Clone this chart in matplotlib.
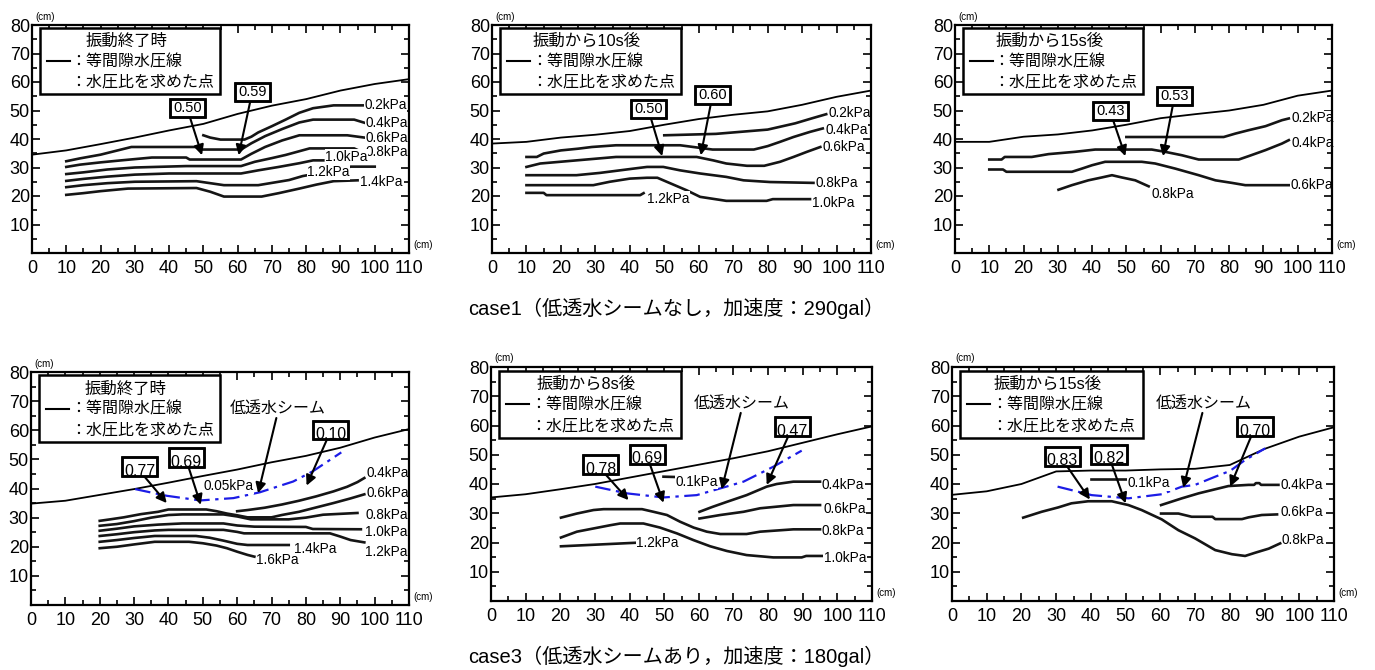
import matplotlib
matplotlib.use("Agg")
import matplotlib.pyplot as plt
from matplotlib.patches import Rectangle

plt.rcParams['font.family'] = ['Liberation Sans', 'Noto Sans CJK JP']

# ---- data (cm) ----
x_ticks = list(range(0, 111, 10))
y_ticks = list(range(0, 81, 10))
ground_x = [0, 10, 20, 30, 40, 50, 60, 70, 80, 90, 100, 110]

# case1 ground surface
ground_1a = [34.5, 36, 38.2, 40.5, 43, 45.3, 48.8, 51.7, 54, 57, 59.3, 61]
ground_1b = [38.4, 39, 40.5, 41.5, 42.8, 45, 47, 48.5, 49.7, 52, 54.8, 57]
ground_1c = [39, 39, 40.8, 41.6, 43, 45, 47.3, 48.7, 50, 52, 55.2, 57]
# case3 ground surface
ground_3a = [34.8, 35.8, 37.8, 39.8, 42, 44.3, 46.5, 49, 51.2, 54, 57.5, 60.4]
ground_3b = [35.4, 36.5, 38.2, 40, 42.2, 44.4, 46.6, 48.8, 51.2, 54.1, 57, 59.7]
ground_3c = [36.3, 37.5, 40, 44.3, 44.6, 44.6, 45, 45.2, 46.5, 52, 56.2, 59.4]

# case1, end of shaking
c1a_02 = [(50, 41.3), (52, 40.5), (55, 39.8), (62, 39.8), (64, 40.8), (66, 42.3), (70, 44.5),
          (74, 46.8), (78, 49.2), (82, 50.8), (88, 51.8), (96.5, 51.8)]
c1a_04 = [(10, 32.2), (14, 33.2), (20, 34.5), (25, 36), (29, 37.2), (48, 37.2), (49, 36.3), (61, 36.3),
          (64, 38.5), (68, 41), (73, 43.5), (78, 45.8), (82, 46.8), (94, 46.8), (97, 45.7)]
c1a_06 = [(10, 30.2), (14, 31), (20, 31.8), (26, 32.5), (35, 33.5), (45, 33.5), (46, 32.8), (61, 32.8),
          (64, 34.8), (68, 37.2), (73, 39.5), (78, 41.3), (92, 41.3), (97, 40.5)]
c1a_08 = [(10, 27.7), (15, 28.3), (22, 29.3), (30, 30), (45, 30.5), (61, 30.5), (65, 32), (70, 33.3),
          (74, 34.4), (81, 36.7), (94, 36.7), (96.5, 35.3)]
c1a_10 = [(10, 25.3), (15, 26), (22, 26.8), (30, 27.5), (40, 27.9), (61, 27.9), (66, 29), (72, 30.2),
          (78, 31.5), (82, 32.5), (85, 32.5)]
c1a_12 = [(10, 23.1), (15, 23.8), (22, 24.5), (30, 25), (48, 25.2), (52, 24.5), (56, 23.8), (66, 23.8),
          (70, 24.6), (75, 25.6), (79, 27), (86, 28.5), (93, 30.3), (100, 30.3)]
c1a_14 = [(10, 20.4), (15, 21), (20, 21.7), (28, 22.6), (48, 22.8), (52, 21.5), (56, 19.8), (67, 19.8),
          (72, 21), (78, 22.6), (83, 24), (88, 25.2), (95, 25.5)]
labels_1a = [('0.2kPa', 97, 51.8), ('0.4kPa', 97.3, 45.5), ('0.6kPa', 97.3, 40.3), ('0.8kPa', 97.3, 35.3),
             ('1.0kPa', 85.5, 33.8), ('1.2kPa', 80.3, 28.3), ('1.4kPa', 95.6, 24.8)]
boxes_1a = [('0.50', 45.4, 51, 49.6, 34.3), ('0.59', 64.3, 56.5, 60.3, 34.3)]

# case1, 10 s after shaking
c1b_02 = [(50, 41.3), (65, 41.8), (80, 43.3), (88, 45.5), (93, 47.3), (97, 48.7)]
c1b_04 = [(10, 33.7), (13, 33.7), (15, 34.9), (20, 36), (25, 36.6), (29, 37.2), (36, 37.8), (54.6, 37.8),
          (58.4, 37.2), (64, 36.3), (76, 36.3), (80, 37.5), (83.6, 39), (87.5, 40.7), (92.3, 42.5), (96, 43.7)]
c1b_06 = [(10, 30.2), (14, 31.4), (24.5, 32.5), (36, 33.7), (59.4, 33.7), (64.2, 32.5), (68, 31.4),
          (74, 30.6), (79, 30.6), (83.6, 32), (87.5, 33.7), (91.4, 35.5), (95.3, 37.2)]
c1b_08 = [(10, 27.3), (24.5, 27.3), (31.3, 28.1), (41, 29.6), (45, 30.2), (49.7, 30.2), (54.6, 29),
          (60.4, 27.9), (68, 26.7), (73, 25.5), (80.7, 24.9), (93.3, 24.6)]
c1b_10 = [(10, 23.8), (29.4, 23.8), (34.2, 25), (40, 26.1), (45, 26.4), (48, 26.4), (50.7, 25), (56.5, 22),
          (60.4, 19.7), (68, 18.3), (79.7, 18.3), (81.5, 18.9), (92.3, 18.9)]
c1b_12 = [(10, 21.1), (15, 21.1), (15.8, 20.3), (43, 20.3), (44, 21)]
labels_1b = [('0.2kPa', 97.7, 49), ('0.4kPa', 96.7, 43), ('0.6kPa', 95.8, 37.2), ('0.8kPa', 94, 24.6),
             ('1.0kPa', 93, 17.7), ('1.2kPa', 45, 19.1)]
boxes_1b = [('0.50', 45.5, 50.6, 49.4, 34), ('0.60', 64, 55.4, 60.6, 34.3)]

# case1, 15 s after shaking
c1c_02 = [(50, 40.7), (78.4, 40.7), (81.8, 41.9), (85.7, 43.1), (90.6, 44.5), (95.4, 46.6), (97.4, 47.2)]
c1c_04 = [(10, 32.8), (13.6, 32.8), (14.5, 33.7), (22.4, 33.7), (27.3, 34.7), (35, 35.5), (40.9, 36.3),
          (57.4, 36.3), (61.3, 35.5), (66.2, 34.3), (71.1, 32.8), (82.8, 32.8), (85.7, 34), (90.6, 36.1),
          (95.4, 38.4), (97.4, 39.6)]
c1c_06 = [(10, 29.3), (14, 29.3), (15, 28.5), (34.1, 28.5), (37, 29.6), (40, 30.8), (43.8, 32), (54.5, 32),
          (58.4, 31.4), (64.3, 29.6), (71.1, 27.3), (76, 25.5), (80.8, 24.6), (84.7, 23.8), (97.4, 23.8)]
c1c_08 = [(30.2, 22.2), (34.1, 23.8), (38.9, 25.5), (42.8, 26.5), (45.8, 27.3), (48.7, 26.5),
          (52.6, 25.5), (56.5, 23.4)]
labels_1c = [('0.2kPa', 98.3, 47.2), ('0.4kPa', 98.3, 38.6), ('0.6kPa', 97.9, 23.8), ('0.8kPa', 57.4, 20.8)]
boxes_1c = [('0.43', 45.5, 49.8, 49.7, 34), ('0.53', 64.1, 55.2, 60.7, 34)]

# case3, end of shaking
c3a_04 = [(60, 32.2), (63, 32.6), (68, 33.4), (73, 34.5), (78, 35.8), (83, 37.3), (88, 39), (92, 40.6),
          (95, 42.2), (97, 43.6)]
c3a_06 = [(20, 28.9), (23, 29.4), (27, 30.1), (32, 31.2), (37, 32), (40, 32.8), (51, 32.8), (54, 32.2),
          (57, 31.4), (60, 30.8), (63, 30.1), (70, 30.1), (73, 30.9), (78, 32), (83, 33.5), (88, 35),
          (93, 36.6), (97, 38)]
c3a_08 = [(20, 27.2), (25, 27.8), (30, 28.8), (35, 30), (40, 30.9), (44, 31.1), (56, 31.1), (60, 30.4),
          (64, 29.4), (75, 29.4), (80, 30), (85, 31), (95, 31.6)]
c3a_10 = [(20, 25.5), (25, 26.2), (30, 27), (37, 27.6), (44, 28), (56, 28), (60, 27.3), (65, 26.9),
          (80, 26.8), (82, 26.1), (96, 26)]
c3a_12 = [(20, 23.7), (25, 24.3), (30, 25), (36, 25.6), (40, 25.8), (56, 25.8), (60, 25.1), (62, 24.6),
          (87, 24.6), (90, 23.5), (93, 22.3), (97, 21.5)]
c3a_14 = [(20, 21.7), (25, 22.3), (30, 23), (36, 23.7), (48, 23.7), (52, 23.1), (56, 22.1), (60, 21),
          (63, 20.6), (75, 20.6)]
c3a_16 = [(20, 19.5), (25, 20), (30, 20.8), (36, 21.7), (46, 21.7), (50, 21.2), (54, 20.4), (57, 19.5),
          (60, 18.3), (63, 17.2), (65, 16.6)]
seam_3a = [(30.3, 39.8), (36.6, 38.2), (39.5, 37.5), (49.2, 35.9), (58.9, 36.7), (66.6, 38.7),
           (76.3, 42.4), (82, 45.9), (90.3, 52.4)]
labels_3a = [('0.4kPa', 97.6, 45.3), ('0.6kPa', 97.6, 38.3), ('0.8kPa', 97.2, 30.9), ('1.0kPa', 97.2, 24.9),
             ('1.2kPa', 97.2, 18.1), ('1.4kPa', 76.5, 19.3), ('1.6kPa', 65.5, 15.3), ('0.05kPa', 50.1, 40.7)]
boxes_3a = [('0.77', 31.7, 47.5, 39.5, 35), ('0.69', 45.2, 50.6, 49.4, 34.4), ('0.10', 87.2, 60.1, 80.2, 41)]
seam_note_3a = (71.7, 67.6, 66.1, 38.4)

# case3, 8 s after shaking
c3b_01 = [(49.8, 42.5), (53, 42.4)]
c3b_04 = [(60.2, 30.5), (64, 32.2), (68.1, 33.9), (73.8, 36.2), (79.6, 39.1), (82.5, 40), (87.3, 40.8),
          (95, 40.8)]
c3b_06 = [(60.2, 28.2), (66.2, 29.4), (72.9, 30.5), (77.7, 31.7), (87.3, 32.8), (95, 32.8)]
c3b_08 = [(20.2, 28.5), (24.8, 29.9), (29.6, 31.1), (32.5, 31.4), (43.6, 31.4), (46.9, 30.5), (50.8, 29.4),
          (54.6, 27.1), (58.5, 25.1), (62.3, 23.7), (66.2, 22.9), (73.8, 22.9), (77.7, 23.7), (87.3, 24.5),
          (95, 24.5)]
c3b_10 = [(20.2, 21.7), (24.8, 23.7), (29.6, 24.8), (34.4, 25.9), (37.3, 26.5), (44, 26.5), (48.8, 25.1),
          (53.7, 23.1), (58.5, 20.8), (63.3, 18.7), (68.1, 17.1), (73.8, 15.7), (81.5, 14.9), (89.7, 14.9),
          (91, 15.4), (95.5, 15.4)]
c3b_12 = [(20.2, 18.7), (41.6, 19.9)]
seam_3b = [(30.1, 39.1), (39.2, 36.8), (49.8, 35.4), (59.4, 36.2), (66.2, 38.5), (72.9, 40.8),
           (81.5, 45.9), (89.7, 51.4)]
labels_3b = [('0.1kPa', 53.2, 40.8), ('0.4kPa', 95.5, 39.7), ('0.6kPa', 96, 31.3), ('0.8kPa', 95.5, 23.9),
             ('1.0kPa', 96, 14.7), ('1.2kPa', 41.9, 19.7)]
boxes_3b = [('0.78', 31.7, 46.7, 39.7, 34.5), ('0.69', 45.1, 50.2, 49.8, 33.6), ('0.47', 87, 59.7, 79.6, 39.7)]
seam_note_3b = (72.4, 67.7, 66.6, 38.2)

# case3, 15 s after shaking
c3c_01 = [(40, 41.7), (50.3, 41.7)]
c3c_04 = [(60.2, 32.8), (66.2, 35.1), (71, 36.8), (75.8, 38.2), (79.6, 39.3), (85.4, 39.7), (87, 39.7),
          (87.5, 40.3), (88.5, 40.3), (89, 39.7), (94, 39.7)]
c3c_06 = [(60.2, 29.9), (65.2, 29.9), (69, 28.8), (75, 28.8), (75.8, 28), (83.5, 28), (85.4, 28.6),
          (89.2, 29.4), (93.6, 29.6)]
c3c_08 = [(20.5, 28.5), (25.8, 30.5), (30.6, 32), (34.4, 33.4), (39.2, 34.1), (46, 34.1), (50.8, 32.8),
          (54.6, 31.1), (60.4, 27.9), (65.2, 24.2), (70, 21.4), (75.8, 17.4), (80.6, 16), (84.4, 15.4),
          (87.3, 16.5), (91.2, 17.9), (94.5, 19.7)]
seam_3c = [(30.4, 39.1), (40.2, 36.2), (50.8, 35.1), (60.4, 36.5), (66.2, 39.1), (70, 39.7), (75.8, 42.5),
           (80.1, 44.5), (84.4, 48.2), (90.2, 52.2)]
labels_3c = [('0.1kPa', 50.6, 40.2), ('0.4kPa', 94.5, 39.5), ('0.6kPa', 94.5, 30.3), ('0.8kPa', 95, 21)]
boxes_3c = [('0.83', 31.8, 49.5, 39.7, 34.7), ('0.82', 45.2, 50.2, 50, 33.4), ('0.70', 87.3, 59.7, 80.1, 39.1)]
seam_note_3c = (72.4, 67.7, 66.6, 38.7)

titles = ['振動終了時', '振動から10s後', '振動から15s後', '振動終了時', '振動から8s後', '振動から15s後']
captions = ['case1（低透水シームなし，加速度：290gal）', 'case3（低透水シームあり，加速度：180gal）']

W, H = 1375, 670
# axes rectangles in pixels: left, right, top, bottom
axes_px = [(32, 409, 25, 253), (492, 871, 25, 253), (955, 1332, 25, 253),
           (31, 409, 372, 605), (491, 872, 367, 601), (952, 1334, 367, 601)]

ARROW = dict(arrowstyle='-|>', color='black', lw=1.5, mutation_scale=15, shrinkA=0, shrinkB=0)


def draw_panel(ax, title, ground, contours, labels, boxes, seam=None, note=None, low_text=False):
    ax.set_xlim(0, 110)
    ax.set_ylim(0, 80)
    ax.set_xticks(x_ticks)
    ax.set_xticks(range(0, 111, 5), minor=True)
    ax.set_yticks(y_ticks)
    ax.set_yticks(range(0, 81, 5), minor=True)
    ax.set_yticklabels([''] + [str(v) for v in y_ticks[1:]])
    ax.tick_params(which='both', direction='in', top=True, right=True, width=1.2, labelsize=13)
    ax.tick_params(which='major', length=6)
    ax.tick_params(which='minor', length=3.5)
    ax.tick_params(axis='x', pad=5)
    ax.tick_params(axis='y', pad=1.5)
    for s in ax.spines.values():
        s.set_linewidth(1.6)

    ax.plot(ground_x, ground, color='black', lw=1.3)
    for pts in contours:
        xs, ys = zip(*pts)
        ax.plot(xs, ys, color='#151515', lw=1.9)
    if seam is not None:
        xs, ys = zip(*seam)
        ax.plot(xs, ys, color='#1c1ce6', lw=1.6, linestyle=(0, (7, 2.5, 1.5, 2.5)))
    for txt, x, y in labels:
        ax.text(x, y, txt, fontsize=9.8, ha='left', va='center', zorder=2.4,
                bbox=dict(fc='white', ec='none', pad=0.2))

    # value boxes with arrows
    bw, bh = 10.2, 6.4
    for txt, cx, cy, tx, ty in boxes:
        ax.annotate('', xy=(tx, ty), xytext=(cx + (tx - cx) * 0.15, cy - bh / 2),
                    arrowprops=ARROW, zorder=4)
        rect = Rectangle((cx - bw / 2, cy - bh / 2), bw, bh, fc='white', ec='black', lw=1.8, zorder=5)
        ax.add_patch(rect)
        dy = -1.6 if low_text else 0
        t = ax.text(cx, cy + dy, txt, fontsize=11.5 if low_text else 10.5,
                    ha='center', va='center', zorder=6)
        t.set_clip_path(rect)
        ax.add_patch(Rectangle((cx - bw / 2, cy - bh / 2), bw, bh, fill=False, ec='black', lw=1.8, zorder=7))

    if note is not None:
        nx, ny, tx, ty = note
        ax.text(nx, ny, '低透水シーム', fontsize=11.5, ha='center', va='center')
        ax.annotate('', xy=(tx, ty), xytext=(nx - 0.3, ny - 3.4), arrowprops=ARROW)

    # legend box
    ax.add_patch(Rectangle((2.3, 55.8), 52.6, 23, fc='white', ec='black', lw=1.8, zorder=5))
    ax.text(27.5, 74.2, title, fontsize=11.8, ha='center', va='center', zorder=6)
    ax.plot([4.3, 11], [67.2, 67.2], color='black', lw=1.5, zorder=6)
    ax.text(11.3, 67.2, '：等間隙水圧線', fontsize=11.5, ha='left', va='center', zorder=6)
    ax.text(11.3, 60, '：水圧比を求めた点', fontsize=11.5, ha='left', va='center', zorder=6)

    ax.text(0.01, 1.015, '(cm)', transform=ax.transAxes, fontsize=7, ha='left', va='bottom')
    ax.text(1.012, 0.012, '(cm)', transform=ax.transAxes, fontsize=7, ha='left', va='bottom')


fig = plt.figure(figsize=(W / 100, H / 100), dpi=100)
axs = []
for l, r, t, b in axes_px:
    axs.append(fig.add_axes([l / W, 1 - b / H, (r - l) / W, (b - t) / H]))

draw_panel(axs[0], titles[0], ground_1a, [c1a_02, c1a_04, c1a_06, c1a_08, c1a_10, c1a_12, c1a_14],
           labels_1a, boxes_1a)
draw_panel(axs[1], titles[1], ground_1b, [c1b_02, c1b_04, c1b_06, c1b_08, c1b_10, c1b_12],
           labels_1b, boxes_1b)
draw_panel(axs[2], titles[2], ground_1c, [c1c_02, c1c_04, c1c_06, c1c_08], labels_1c, boxes_1c)
draw_panel(axs[3], titles[3], ground_3a, [c3a_04, c3a_06, c3a_08, c3a_10, c3a_12, c3a_14, c3a_16],
           labels_3a, boxes_3a, seam=seam_3a, note=seam_note_3a, low_text=True)
draw_panel(axs[4], titles[4], ground_3b, [c3b_01, c3b_04, c3b_06, c3b_08, c3b_10, c3b_12],
           labels_3b, boxes_3b, seam=seam_3b, note=seam_note_3b, low_text=True)
draw_panel(axs[5], titles[5], ground_3c, [c3c_01, c3c_04, c3c_06, c3c_08],
           labels_3c, boxes_3c, seam=seam_3c, note=seam_note_3c, low_text=True)

fig.text(0.492, 1 - 308 / H, captions[0], fontsize=14.5, ha='center', va='center')
fig.text(0.492, 1 - 656 / H, captions[1], fontsize=14.5, ha='center', va='center')

fig.savefig('out.png', dpi=100)
